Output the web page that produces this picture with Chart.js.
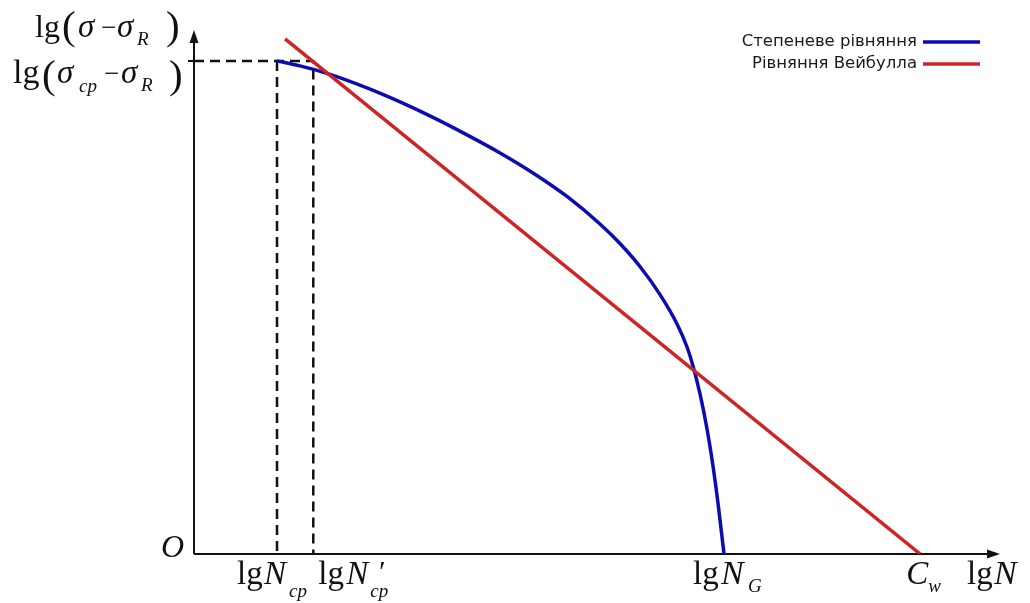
<!DOCTYPE html>
<html>
<head>
<meta charset="utf-8">
<script src="https://cdn.jsdelivr.net/npm/chart.js@4"></script>
<style>
  html, body { margin: 0; padding: 0; background: #fff; }
  #wrap { width: 1030px; height: 603px; position: relative; }
</style>
</head>
<body>
<div id="wrap"><canvas id="chart"></canvas></div>
<script>
// Curve data (arbitrary units: lg N across, lg(σ-σR) up)
const powerX = [10.30, 13.15, 16.50, 21.46, 25.56, 29.65, 33.87, 37.97, 42.06, 46.28, 50.37, 52.85, 55.33, 57.82, 59.93, 61.17, 61.91, 62.78, 63.65, 64.39, 65.01, 65.51, 65.76];
const powerY = [61.17, 60.55, 59.62, 57.82, 56.08, 54.16, 51.99, 49.75, 47.27, 44.35, 40.94, 38.51, 35.66, 32.18, 28.54, 25.68, 23.33, 19.85, 15.51, 10.92, 6.33, 2.11, 0];
const weibullX = [11.3, 90.1];
const weibullY = [63.9, 0];

// key points on the axes
const lgNcp = 10.3;
const lgNcp2 = 14.8;
const lgNG = 65.76;
const Cw = 90.1;
const lgSigmaCp = 61.17;

const seriesNames = ['Степеневе рівняння', 'Рівняння Вейбулла'];
const BLUE = '#0c0cb0';
const RED = '#d02424';

function pts(xs, ys) {
  return xs.map((x, i) => ({ x: x, y: ys[i] }));
}

// small helper to draw formula-like text runs
function drawRuns(ctx, runs) {
  runs.forEach(r => {
    ctx.font = (r.italic ? 'italic ' : '') + r.size + 'px "Liberation Serif", "Times New Roman", serif';
    ctx.fillStyle = '#111';
    ctx.textAlign = 'left';
    ctx.textBaseline = 'alphabetic';
    ctx.fillText(r.t, r.x, r.y);
  });
}

function arrowHead(ctx, x, y, dir) {
  ctx.beginPath();
  if (dir === 'right') {
    ctx.moveTo(x, y);
    ctx.lineTo(x - 13, y - 4.5);
    ctx.lineTo(x - 13, y + 4.5);
  } else {
    ctx.moveTo(x, y);
    ctx.lineTo(x - 4.5, y + 13);
    ctx.lineTo(x + 4.5, y + 13);
  }
  ctx.closePath();
  ctx.fill();
}

const axesPlugin = {
  id: 'axesPlugin',
  beforeDatasetsDraw(chart) {
    const ctx = chart.ctx;
    const xs = chart.scales.x, ys = chart.scales.y;
    const x0 = xs.getPixelForValue(0), y0 = ys.getPixelForValue(0);
    const area = chart.chartArea;
    ctx.save();
    ctx.strokeStyle = '#111';
    ctx.fillStyle = '#111';
    ctx.lineWidth = 2;
    ctx.beginPath();
    ctx.moveTo(x0, y0);
    ctx.lineTo(area.right - 4, y0);
    ctx.moveTo(x0, y0);
    ctx.lineTo(x0, area.top + 4);
    // small tick at the lg(σcp-σR) level
    const yc = ys.getPixelForValue(lgSigmaCp);
    ctx.moveTo(x0 - 6, yc);
    ctx.lineTo(x0, yc);
    ctx.stroke();
    arrowHead(ctx, area.right, y0, 'right');
    arrowHead(ctx, x0, area.top, 'up');
    ctx.restore();
  },
  afterDraw(chart) {
    const ctx = chart.ctx;
    const xs = chart.scales.x;
    const px = v => xs.getPixelForValue(v);
    ctx.save();
    // y axis labels
    drawRuns(ctx, [
      { t: 'lg', x: 35, y: 37, size: 32 },
      { t: '(', x: 62, y: 39, size: 41 },
      { t: 'σ', x: 78, y: 37, size: 33, italic: true },
      { t: '−', x: 101, y: 36, size: 27 },
      { t: 'σ', x: 117, y: 37, size: 33, italic: true },
      { t: 'R', x: 137, y: 45, size: 19, italic: true },
      { t: ')', x: 166, y: 39, size: 41 },

      { t: 'lg', x: 13, y: 83, size: 34 },
      { t: '(', x: 42, y: 88, size: 41 },
      { t: 'σ', x: 57, y: 83, size: 33, italic: true },
      { t: 'ср', x: 79, y: 92, size: 19, italic: true },
      { t: '−', x: 104, y: 82, size: 27 },
      { t: 'σ', x: 121, y: 83, size: 33, italic: true },
      { t: 'R', x: 141, y: 91, size: 19, italic: true },
      { t: ')', x: 169, y: 88, size: 41 },

      { t: 'O', x: 161, y: 557, size: 32, italic: true },

      { t: 'lg', x: px(lgNcp) - 40, y: 584, size: 33 },
      { t: 'N', x: px(lgNcp) - 13, y: 584, size: 33, italic: true },
      { t: 'ср', x: px(lgNcp) + 12, y: 597, size: 19, italic: true },

      { t: 'lg', x: px(lgNcp2) + 5, y: 584, size: 33 },
      { t: 'N', x: px(lgNcp2) + 33, y: 584, size: 33, italic: true },
      { t: '′', x: px(lgNcp2) + 64, y: 581, size: 30, italic: true },
      { t: 'ср', x: px(lgNcp2) + 57, y: 597, size: 19, italic: true },

      { t: 'lg', x: px(lgNG) - 31, y: 584, size: 33 },
      { t: 'N', x: px(lgNG) - 3, y: 584, size: 34, italic: true },
      { t: 'G', x: px(lgNG) + 24, y: 592, size: 19, italic: true },

      { t: 'C', x: px(Cw) - 14, y: 584, size: 33, italic: true },
      { t: 'w', x: px(Cw) + 8, y: 592, size: 19, italic: true },

      { t: 'lg', x: 967, y: 584, size: 33 },
      { t: 'N', x: 994, y: 584, size: 34, italic: true }
    ]);

    // legend: text on the left, line sample on the right
    const ds = chart.data.datasets;
    ctx.font = '16.5px "DejaVu Sans", sans-serif';
    ctx.textAlign = 'right';
    ctx.textBaseline = 'middle';
    [0, 1].forEach(i => {
      const y = 42 + i * 22;
      ctx.fillStyle = '#1a1a1a';
      ctx.fillText(ds[i].label, 917, y);
      ctx.strokeStyle = ds[i].borderColor;
      ctx.lineWidth = 3.5;
      ctx.beginPath();
      ctx.moveTo(923, y);
      ctx.lineTo(980, y);
      ctx.stroke();
    });
    ctx.restore();
  }
};

new Chart(document.getElementById('chart'), {
  type: 'scatter',
  data: {
    datasets: [
      {
        label: seriesNames[0],
        data: pts(powerX, powerY),
        showLine: true,
        borderColor: BLUE,
        borderWidth: 3.5,
        pointRadius: 0,
        cubicInterpolationMode: 'monotone',
        order: 1
      },
      {
        label: seriesNames[1],
        data: pts(weibullX, weibullY),
        showLine: true,
        borderColor: RED,
        borderWidth: 3.5,
        pointRadius: 0,
        order: 0
      },
      {
        label: 'dash1',
        data: [{ x: 0, y: lgSigmaCp }, { x: lgNcp2, y: lgSigmaCp }, { x: lgNcp2, y: 0 }],
        showLine: true,
        borderColor: '#111',
        borderWidth: 2.5,
        borderDash: [10, 6],
        pointRadius: 0,
        order: 2
      },
      {
        label: 'dash2',
        data: [{ x: lgNcp, y: lgSigmaCp }, { x: lgNcp, y: 0 }],
        showLine: true,
        borderColor: '#111',
        borderWidth: 2.5,
        borderDash: [10, 6],
        pointRadius: 0,
        order: 2
      }
    ]
  },
  options: {
    responsive: true,
    maintainAspectRatio: false,
    animation: false,
    events: [],
    layout: { padding: { left: 194, right: 30, top: 30, bottom: 49 } },
    scales: {
      x: { type: 'linear', min: 0, max: 100, display: false },
      y: { type: 'linear', min: 0, max: 65, display: false }
    },
    plugins: {
      legend: { display: false },
      tooltip: { enabled: false }
    }
  },
  plugins: [axesPlugin]
});
</script>
</body>
</html>
